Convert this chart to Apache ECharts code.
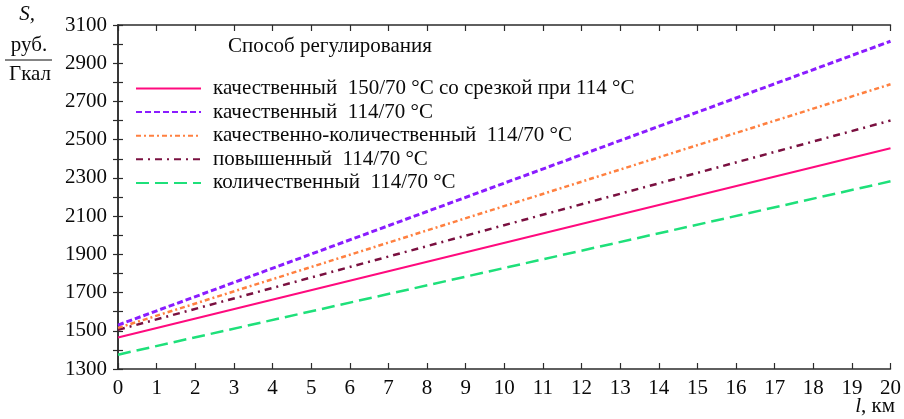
<!DOCTYPE html>
<html>
<head>
<meta charset="utf-8">
<script src="https://cdn.jsdelivr.net/npm/echarts@6/dist/echarts.min.js"></script>
<style>
  html, body { margin: 0; padding: 0; background: #fff; }
  #chart { width: 904px; height: 419px; }
</style>
</head>
<body>
<div id="chart"></div>
<script>
// Distance along the network, km
const distances = [0, 20];

// Specific cost of heat transport S, rub/Gcal, at the ends of each line
const qualityCutoff150 = [1465, 2455];
const quality114 = [1530, 3015];
const qualityQuantity114 = [1515, 2790];
const raised114 = [1505, 2600];
const quantity114 = [1375, 2282];

const seriesNames = [
  'качественный  150/70 °С со срезкой при 114 °С',
  'качественный  114/70 °С',
  'качественно-количественный  114/70 °С',
  'повышенный  114/70 °С',
  'количественный  114/70 °С'
];

const xTicks = { min: 0, max: 20, interval: 1 };
const yTicks = { min: 1300, max: 3100, interval: 100, labelStep: 200 };

const FONT = '"Liberation Serif", "DejaVu Serif", serif';
const FS = 21;
const INK = '#0a0a0a';
const AXIS = '#2b2b2b';

function pairs(values) {
  return distances.map((d, i) => [d, values[i]]);
}

const styles = [
  { color: '#ff0a7e', width: 2, type: 'solid' },
  { color: '#8a1cff', width: 3, type: [6, 3] },
  { color: '#ff8040', width: 2.5, type: [5, 3, 2, 3] },
  { color: '#7a1040', width: 2.5, type: [7, 5, 2, 5] },
  { color: '#1ee07a', width: 2.5, type: [13, 6] }
];
const valuesList = [qualityCutoff150, quality114, qualityQuantity114, raised114, quantity114];

const chart = echarts.init(document.getElementById('chart'), null, { renderer: 'canvas' });

const frameAxisX = {
  type: 'value', min: xTicks.min, max: xTicks.max, interval: xTicks.interval,
  axisLine: { show: true, lineStyle: { color: AXIS, width: 1.5 } },
  axisTick: { show: true, inside: true, length: 6, lineStyle: { color: AXIS, width: 1.2 } },
  splitLine: { show: false }
};
const frameAxisY = {
  type: 'value', min: yTicks.min, max: yTicks.max, interval: yTicks.interval,
  axisLine: { show: true, lineStyle: { color: AXIS, width: 1.5 } },
  axisTick: { show: true, inside: true, length: 5, lineStyle: { color: AXIS, width: 1.2 } },
  splitLine: { show: false }
};

chart.setOption({
  animation: false,
  backgroundColor: '#ffffff',
  grid: { left: 118, right: 12, top: 25, bottom: 50 },
  xAxis: [
    Object.assign({}, frameAxisX, {
      position: 'bottom',
      axisLabel: { color: INK, fontFamily: FONT, fontSize: FS, margin: 9 }
    }),
    Object.assign({}, frameAxisX, { position: 'top', axisLabel: { show: false } })
  ],
  yAxis: [
    Object.assign({}, frameAxisY, {
      position: 'left',
      axisLabel: {
        color: INK, fontFamily: FONT, fontSize: FS, margin: 11,
        formatter: v => ((v - yTicks.min) % yTicks.labelStep === 0 ? String(v) : '')
      }
    }),
    Object.assign({}, frameAxisY, { position: 'right', axisLabel: { show: false } })
  ],
  legend: {
    orient: 'vertical',
    left: 135, top: 78, padding: 0,
    itemWidth: 65, itemHeight: 14, itemGap: 2.6,
    data: seriesNames,
    itemStyle: { opacity: 0 },
    textStyle: { fontFamily: FONT, fontSize: FS, lineHeight: 20, color: INK, padding: [0, 0, 0, 7] },
    selectedMode: false
  },
  series: seriesNames.map((name, i) => ({
    name: name,
    type: 'line',
    data: pairs(valuesList[i]),
    showSymbol: false,
    symbol: 'none',
    color: styles[i].color,
    lineStyle: { color: styles[i].color, width: styles[i].width, type: styles[i].type },
    z: 10 - i
  })),
  graphic: [
    { type: 'text', left: 228, top: 36,
      style: { text: 'Способ регулирования', font: FS + 'px ' + FONT, fill: INK } },
    { type: 'text', x: 27, y: 14,
      style: { text: 'S,', font: 'italic ' + FS + 'px ' + FONT, fill: INK, align: 'center', verticalAlign: 'middle' } },
    { type: 'text', x: 29, y: 45,
      style: { text: 'руб.', font: FS + 'px ' + FONT, fill: INK, align: 'center', verticalAlign: 'middle' } },
    { type: 'line', shape: { x1: 5, y1: 60, x2: 52, y2: 60 },
      style: { stroke: INK, lineWidth: 1 } },
    { type: 'text', x: 30, y: 74,
      style: { text: 'Гкал', font: FS + 'px ' + FONT, fill: INK, align: 'center', verticalAlign: 'middle' } },
    { type: 'text', x: 895, y: 406,
      style: {
        text: '{i|l}, км', align: 'right', verticalAlign: 'middle',
        rich: { i: { fontFamily: FONT, fontStyle: 'italic', fontSize: FS, fill: INK } },
        font: FS + 'px ' + FONT, fill: INK
      } }
  ]
});
</script>
</body>
</html>
